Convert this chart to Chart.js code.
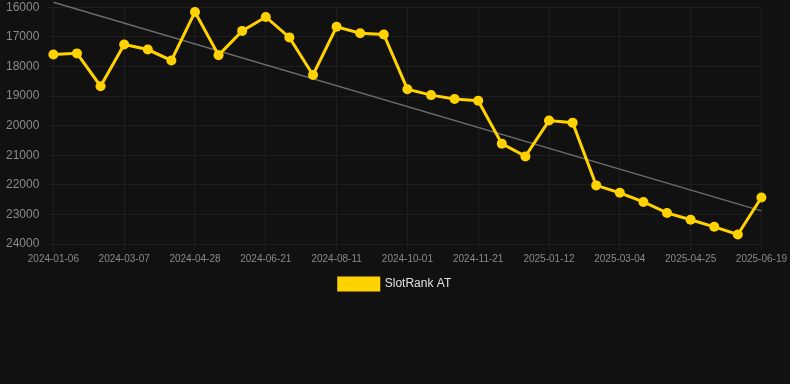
<!DOCTYPE html>
<html>
<head>
<meta charset="utf-8">
<script src="https://cdn.jsdelivr.net/npm/chart.js@4/dist/chart.umd.min.js"></script>
<style>
html,body{margin:0;padding:0;background:#111111;overflow:hidden;}
#wrap{position:relative;width:790px;height:306px;margin-top:-6px;}
</style>
</head>
<body>
<div id="wrap"><canvas id="c"></canvas></div>
<script>
const categories = ["2024-01-06","2024-01-26","2024-02-15","2024-03-07","2024-03-24","2024-04-10","2024-04-28","2024-05-16","2024-06-03","2024-06-21","2024-07-08","2024-07-25","2024-08-11","2024-08-28","2024-09-14","2024-10-01","2024-10-18","2024-11-04","2024-11-21","2024-12-08","2024-12-25","2025-01-12","2025-01-29","2025-02-15","2025-03-04","2025-03-21","2025-04-07","2025-04-25","2025-05-13","2025-05-31","2025-06-19"];
const rankValues = [17600,17560,18670,17260,17430,17800,16160,17620,16800,16330,17020,18290,16660,16880,16920,18770,18970,19100,19160,20610,21040,19830,19900,22020,22270,22580,22950,23180,23420,23680,22430];
const trendValues = [15830,null,null,null,null,null,null,null,null,null,null,null,null,null,null,null,null,null,null,null,null,null,null,null,null,null,null,null,null,null,22880];
const yTicks = [16000,17000,18000,19000,20000,21000,22000,23000,24000];
const seriesName = "SlotRank AT";

new Chart(document.getElementById('c'), {
  type: 'line',
  data: {
    labels: categories,
    datasets: [
      {
        label: seriesName,
        data: rankValues,
        borderColor: '#FFD200',
        backgroundColor: '#FFD200',
        borderWidth: 3,
        pointRadius: 5,
        pointBorderWidth: 0,
        pointHoverRadius: 5,
        pointBackgroundColor: '#FFD200',
        pointBorderColor: '#FFD200',
        tension: 0,
        clip: false,
        order: 1
      },
      {
        label: 'trend',
        data: trendValues,
        borderColor: '#6b6b6b',
        borderWidth: 1.5,
        pointRadius: 0,
        spanGaps: true,
        fill: false,
        clip: false,
        order: 2
      }
    ]
  },
  options: {
    responsive: true,
    maintainAspectRatio: false,
    animation: false,
    plugins: {
      legend: {
        position: 'bottom',
        labels: {
          color: '#e0e0e0',
          font: { family: 'Liberation Sans, Arial, sans-serif', size: 12 },
          boxWidth: 40,
          boxHeight: 12,
          filter: (item) => item.text === seriesName
        }
      },
      tooltip: { enabled: false }
    },
    scales: {
      x: {
        offset: false,
        grid: { color: '#1e1e1e', tickLength: 6 },
        border: { color: '#1e1e1e' },
        ticks: {
          color: '#8a8a8a',
          font: { family: 'Liberation Sans, Arial, sans-serif', size: 10 },
          maxRotation: 0,
          autoSkip: true,
          maxTicksLimit: 11
        }
      },
      y: {
        reverse: true,
        min: yTicks[0],
        max: yTicks[yTicks.length - 1],
        grid: { color: '#1e1e1e' },
        border: { color: '#1e1e1e' },
        afterBuildTicks: (axis) => { axis.ticks = yTicks.map(v => ({ value: v })); },
        ticks: {
          color: '#8a8a8a',
          font: { family: 'Liberation Sans, Arial, sans-serif', size: 12 },
          padding: 6,
          callback: (v) => String(v)
        }
      }
    }
  }
});
</script>
</body>
</html>
